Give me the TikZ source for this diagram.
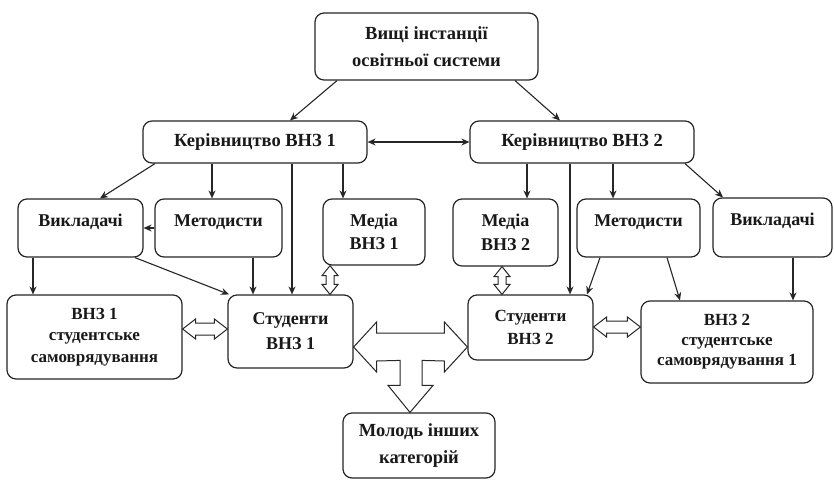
\documentclass[tikz,border=0pt]{standalone}
\usepackage{fontspec}
\setmainfont{Liberation Serif}
\usetikzlibrary{arrows.meta,calc}
\newcommand\hdblarrow[5]{% start, end, head length, head half width, shaft half width
  \draw[hollow] (#1) -- ($(#1)!#3!(#2)!#4!90:(#2)$) -- ($(#1)!#3!(#2)!#5!90:(#2)$)
    -- ($(#2)!#3!(#1)!#5!-90:(#1)$) -- ($(#2)!#3!(#1)!#4!-90:(#1)$) -- (#2)
    -- ($(#2)!#3!(#1)!#4!90:(#1)$) -- ($(#2)!#3!(#1)!#5!90:(#1)$)
    -- ($(#1)!#3!(#2)!#5!-90:(#2)$) -- ($(#1)!#3!(#2)!#4!-90:(#2)$) -- cycle;}
\begin{document}
\begin{tikzpicture}[x=1pt,y=-1pt,
  box/.style={draw=black!85, line width=1.2pt, rounded corners=9pt, align=center,
    inner sep=0pt, font=\bfseries\fontsize{18}{22}\selectfont, text=black!90},
  topalign/.style={text height=12pt, text depth=16pt},
  arr/.style={draw=black!85, line width=1.1pt, -{Stealth[length=8pt,width=7pt]}},
  darr/.style={draw=black!85, line width=1.1pt, {Stealth[length=8pt,width=7pt]}-{Stealth[length=8pt,width=7pt]}},
  hollow/.style={draw=black!85, line width=1pt, fill=white, line join=miter}]
\fill[white] (0,0) rectangle (834,482);
\useasboundingbox (0,0) rectangle (834,482);

% boxes
\node[box, minimum width=223pt, minimum height=67pt, font=\bfseries\fontsize{18.5}{27}\selectfont] (top) at (426.5,46.5) {Вищі інстанції\\освітньої системи};
\node[box, minimum width=224pt, minimum height=42pt, font=\bfseries\fontsize{18.5}{22}\selectfont] (ker1) at (255,142) {Керівництво ВНЗ 1};
\node[box, minimum width=224pt, minimum height=42pt, font=\bfseries\fontsize{18.5}{22}\selectfont] (ker2) at (582,142) {Керівництво ВНЗ 2};

\node[box, topalign, minimum width=125pt, minimum height=58pt] (vyk1) at (80.5,228) {Викладачі};
\node[box, topalign, minimum width=127pt, minimum height=58pt] (met1) at (218.5,228) {Методисти};
\node[box, minimum width=102pt, minimum height=66pt, font=\bfseries\fontsize{18}{23}\selectfont] (med1) at (374,232) {Медіа\\ВНЗ 1};
\node[box, minimum width=105pt, minimum height=67pt, font=\bfseries\fontsize{18}{24}\selectfont] (med2) at (505.5,232.5) {Медіа\\ВНЗ 2};
\node[box, topalign, minimum width=123pt, minimum height=58pt] (met2) at (638.5,228) {Методисти};
\node[box, topalign, minimum width=119pt, minimum height=59pt] (vyk2) at (772.5,227.5) {Викладачі};

\node[box, minimum width=175pt, minimum height=84pt, font=\bfseries\fontsize{17}{21.5}\selectfont] (sam1) at (94.5,337) {ВНЗ 1\\студентське\\самоврядування};
\node[box, minimum width=125pt, minimum height=73pt, font=\bfseries\fontsize{18}{25}\selectfont] (st1) at (290.5,331.5) {Студенти\\ВНЗ 1};
\node[box, minimum width=125pt, minimum height=65pt, font=\bfseries\fontsize{17}{23}\selectfont] (st2) at (530.5,327.5) {Студенти\\ВНЗ 2};
\node[box, minimum width=172pt, minimum height=82pt, font=\bfseries\fontsize{17}{20}\selectfont] (sam2) at (727,342) {ВНЗ 2\\студентське\\самоврядування 1};
\node[box, minimum width=152pt, minimum height=65pt, font=\bfseries\fontsize{18.5}{27}\selectfont] (mol) at (419,445.5) {Молодь інших\\категорій};

% plain arrows
\draw[arr] (top.south -| 337,0) -- (ker1.north -| 290,0);
\draw[arr] (top.south -| 515,0) -- (ker2.north -| 560,0);
\draw[darr] (ker1.east) -- (ker2.west);
\draw[arr] (ker1.south -| 155,0) -- (vyk1.north -| 100,0);
\draw[arr] (ker1.south -| 212,0) -- (met1.north -| 212,0);
\draw[arr] (ker1.south -| 292,0) -- (st1.north -| 292,0);
\draw[arr] (ker1.south -| 343,0) -- (med1.north -| 343,0);
\draw[arr] (met1.west |- 0,228) -- (vyk1.east |- 0,228);
\draw[arr] (vyk1.south -| 33,0) -- (sam1.north -| 33,0);
\draw[arr] (vyk1.south -| 135,0) -- (st1.north -| 229,0);
\draw[arr] (met1.south -| 253,0) -- (st1.north -| 253,0);
\draw[arr] (ker2.south -| 527,0) -- (med2.north -| 527,0);
\draw[arr] (ker2.south -| 570,0) -- (st2.north -| 570,0);
\draw[arr] (ker2.south -| 613,0) -- (met2.north -| 613,0);
\draw[arr] (ker2.south -| 685,0) -- (vyk2.north -| 723,0);
\draw[arr] (met2.south -| 600,0) -- (st2.north -| 587,0);
\draw[arr] (met2.south -| 667,0) -- (sam2.north -| 680,0);
\draw[arr] (vyk2.south -| 793,0) -- (sam2.north -| 793,0);

% hollow double arrows
\coordinate (h1a) at (sam1.east |- 0,329);
\coordinate (h1b) at (st1.west |- 0,329);
\coordinate (h2a) at (st2.east |- 0,327);
\coordinate (h2b) at (sam2.west |- 0,327);
\coordinate (v1a) at (med1.south -| 330,0);
\coordinate (v1b) at (st1.north -| 330,0);
\coordinate (v2a) at (med2.south -| 502,0);
\coordinate (v2b) at (st2.north -| 502,0);
\hdblarrow{h1a}{h1b}{13pt}{10pt}{6pt}
\hdblarrow{h2a}{h2b}{13pt}{10pt}{6pt}
\hdblarrow{v1a}{v1b}{10pt}{8pt}{4pt}
\hdblarrow{v2a}{v2b}{10pt}{8pt}{4pt}

% three-way hollow arrow
\coordinate (tL) at (st1.east |- 0,347);
\coordinate (tR) at (st2.west |- 0,347);
\coordinate (tD) at (mol.north -| 410,0);
\draw[hollow] (tL) -- ($(tL)+(23,-25)$) -- ($(tL)+(23,-14)$) -- ($(tR)+(-23,-14)$)
  -- ($(tR)+(-23,-25)$) -- (tR) -- ($(tR)+(-23,25)$) -- ($(tR)+(-23,14)$)
  -- ($(tD)+(12,-52)$) -- ($(tD)+(12,-27)$) -- ($(tD)+(23,-27)$) -- (tD)
  -- ($(tD)+(-22,-27)$) -- ($(tD)+(-10,-27)$) -- ($(tD)+(-10,-52)$)
  -- ($(tL)+(23,14)$) -- ($(tL)+(23,25)$) -- cycle;
\end{tikzpicture}
\end{document}
